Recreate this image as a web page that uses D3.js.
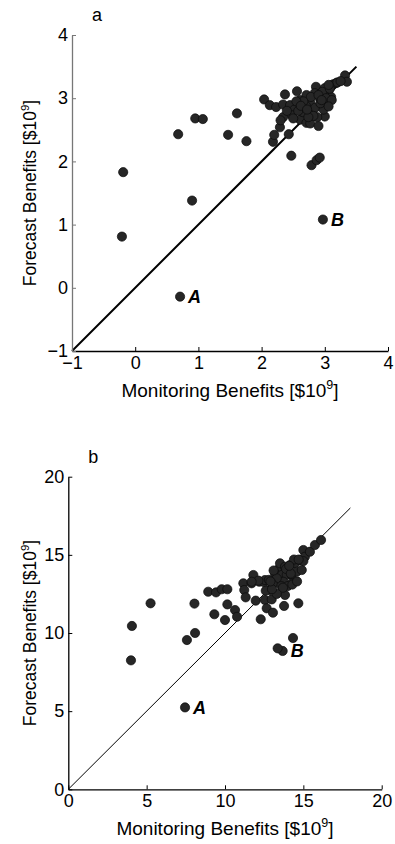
<!DOCTYPE html>
<html>
<head>
<meta charset="utf-8">
<script src="https://cdn.jsdelivr.net/npm/d3@7"></script>
<style>
  body { margin: 0; background: #fff; }
  svg { display: block; }
  text { font-family: "Liberation Sans", Arial, sans-serif; fill: #000; }
</style>
</head>
<body>
<div id="chart"></div>
<script>
var width = 395,
    height = 844;

// panel a: monitoring vs forecast benefits ($10^9)
var aMonitoring = [-0.21, -0.19, 0.90, 0.68, 0.95, 1.07, 1.47, 1.61, 1.76, 0.71, 2.97,
  2.47, 2.79, 2.87, 2.92, 2.18, 2.20, 2.29, 2.43,
  2.04, 2.13, 2.23, 2.37, 2.34, 2.45, 2.56, 2.61, 2.52, 2.71, 2.77, 2.86, 2.84, 2.92,
  3.00, 3.05, 3.13, 3.18, 3.32, 3.35, 3.20, 3.25,
  2.34, 2.48, 2.61, 2.71, 2.77, 2.90, 3.00, 2.65, 2.80, 2.95, 3.05, 2.85, 2.70, 2.58,
  2.88, 2.98, 3.10, 2.93, 2.78, 2.66, 2.55, 2.40, 2.30, 2.82, 2.96, 3.08, 2.74, 2.62,
  2.90, 3.02, 2.72, 2.50, 2.95, 3.06, 3.11, 3.06];
var aForecast = [0.81, 1.83, 1.38, 2.43, 2.68, 2.67, 2.42, 2.76, 2.32, -0.14, 1.08,
  2.09, 1.94, 2.02, 2.06, 2.31, 2.42, 2.54, 2.43,
  2.98, 2.89, 2.86, 3.06, 2.90, 2.89, 3.11, 2.97, 2.82, 3.05, 2.94, 3.18, 3.08, 3.00,
  3.16, 3.08, 3.22, 3.24, 3.36, 3.26, 3.25, 3.27,
  2.70, 2.73, 2.66, 2.61, 2.60, 2.56, 2.71, 2.78, 2.80, 2.88, 2.95, 2.85, 2.88, 2.80,
  2.70, 2.82, 3.02, 2.92, 3.02, 2.95, 2.95, 2.80, 2.65, 2.72, 3.10, 3.15, 2.70, 2.88,
  3.05, 3.00, 2.82, 2.68, 2.97, 3.21, 2.97, 2.87];

// panel b
var bMonitoring = [4.00, 4.06, 5.25, 7.45, 13.68, 13.36, 14.34, 8.05, 7.57, 8.09,
  8.93, 9.43, 9.79, 10.15, 9.32, 10.00, 10.15, 10.64, 10.77, 11.17, 11.23, 11.32,
  11.81, 11.70, 12.19, 12.50, 11.96, 12.28, 12.55, 12.66, 12.98, 13.06, 12.87, 12.60,
  13.40, 13.19, 13.51, 13.83, 14.15, 14.47, 14.79, 15.00, 15.10, 15.42, 15.74, 16.13,
  13.62, 13.94, 14.26, 14.58, 14.90, 13.72, 14.26, 13.08, 12.55, 12.13, 11.70,
  13.77, 13.83, 14.68, 13.30, 13.05, 13.60, 14.00, 14.30, 14.60, 13.70, 13.30, 13.00,
  12.80, 13.90, 14.20, 15.00, 12.90, 14.40, 14.70, 13.10, 14.10];
var bForecast = [8.25, 10.45, 11.90, 5.24, 8.85, 9.02, 9.68, 11.88, 9.55, 10.00,
  12.64, 12.60, 12.80, 12.80, 11.20, 10.83, 11.83, 11.47, 11.04, 13.18, 12.75, 12.28,
  13.71, 13.18, 13.28, 13.25, 12.07, 10.88, 12.11, 11.58, 12.15, 11.30, 12.75, 12.70,
  14.07, 13.82, 14.46, 14.24, 14.35, 14.46, 14.67, 15.31, 14.88, 15.20, 15.63, 15.95,
  13.71, 13.71, 13.71, 13.92, 14.03, 13.28, 13.18, 13.28, 13.39, 13.35, 13.28,
  11.73, 12.43, 11.90, 13.50, 13.10, 13.00, 13.00, 13.10, 13.30, 12.90, 12.50, 12.80,
  13.40, 14.10, 13.80, 14.60, 13.30, 14.70, 14.70, 14.00, 14.30];

var aTicks = [-1, 0, 1, 2, 3, 4],
    bTicks = [0, 5, 10, 15, 20];

// labelled points: index into the arrays
var aMarked = [{i: 9, name: "A"}, {i: 10, name: "B"}],
    bMarked = [{i: 3, name: "A"}, {i: 4, name: "B"}];

var panels = [
  {letter: "a", xs: aMonitoring, ys: aForecast, ticks: aTicks, domain: [-1, 4], diag: [-1, 3.5],
   left: 72, right: 388, top: 35, bottom: 351, lineW: 2, yAxisColor: "#777", marked: aMarked},
  {letter: "b", xs: bMonitoring, ys: bForecast, ticks: bTicks, domain: [0, 20], diag: [0, 18],
   left: 68.3, right: 381.7, top: 476.7, bottom: 789.3, lineW: 1, yAxisColor: "#000", marked: bMarked}
];

var svg = d3.select("#chart")
  .append("svg")
  .attr("width", width)
  .attr("height", height);

function minus(d) { return d < 0 ? "\u2212" + Math.abs(d) : d; }

panels.forEach(function(p) {
  var x = d3.scaleLinear().domain(p.domain).range([p.left, p.right]);
  var y = d3.scaleLinear().domain(p.domain).range([p.bottom, p.top]);
  var g = svg.append("g");

  // diagonal 1:1 line
  g.append("line")
    .attr("x1", x(p.diag[0])).attr("y1", y(p.diag[0]))
    .attr("x2", x(p.diag[1])).attr("y2", y(p.diag[1]))
    .style("stroke", "#000")
    .style("stroke-width", p.lineW);

  // dots
  g.selectAll("circle")
    .data(d3.range(p.xs.length))
    .enter().append("circle")
    .attr("cx", function(i) { return x(p.xs[i]); })
    .attr("cy", function(i) { return y(p.ys[i]); })
    .attr("r", 4.6)
    .style("fill", "#262626")
    .style("stroke", "#0a0a0a")
    .style("stroke-width", 0.7);

  // point labels
  p.marked.forEach(function(m) {
    g.append("text")
      .attr("x", x(p.xs[m.i]) + 8)
      .attr("y", y(p.ys[m.i]) + 6.5)
      .style("font-size", "18px")
      .style("font-weight", "bold")
      .style("font-style", "italic")
      .text(m.name);
  });

  // axes
  var xAxis = d3.axisBottom(x).tickValues(p.ticks).tickSizeInner(-4).tickSizeOuter(0).tickPadding(5).tickFormat(minus);
  var yAxis = d3.axisLeft(y).tickValues(p.ticks).tickSizeInner(-4).tickSizeOuter(0).tickPadding(4).tickFormat(minus);

  var gx = g.append("g")
    .attr("transform", "translate(0," + p.bottom + ")")
    .call(xAxis);
  var gy = g.append("g")
    .attr("transform", "translate(" + p.left + ",0)")
    .call(yAxis);

  gx.select(".domain").style("stroke", "#000").style("stroke-width", 1.3);
  gx.selectAll(".tick line").style("stroke", "#000");
  gy.select(".domain").style("stroke", p.yAxisColor).style("stroke-width", 1.3);
  gy.selectAll(".tick line").style("stroke", p.yAxisColor);
  g.selectAll(".tick text")
    .style("font-family", "'Liberation Sans', Arial, sans-serif")
    .style("font-size", "18px")
    .style("fill", "#000");

  // x label
  var xl = g.append("text")
    .attr("x", (p.left + p.right) / 2)
    .attr("y", p.bottom + 46)
    .attr("text-anchor", "middle")
    .style("font-size", "19px");
  xl.append("tspan").text("Monitoring Benefits [$10");
  xl.append("tspan").attr("dy", -8).style("font-size", "12.5px").text("9");
  xl.append("tspan").attr("dy", 8).text("]");

  // y label
  var yl = g.append("text")
    .attr("transform", "translate(36," + (p.top + p.bottom) / 2 + ") rotate(-90)")
    .attr("text-anchor", "middle")
    .style("font-size", "17.5px");
  yl.append("tspan").text("Forecast Benefits [$10");
  yl.append("tspan").attr("dy", -7).style("font-size", "11.5px").text("9");
  yl.append("tspan").attr("dy", 7).text("]");

  // panel letter
  g.append("text")
    .attr("x", p.left + 20)
    .attr("y", p.top - 14)
    .style("font-size", "18px")
    .text(p.letter);
});
</script>
</body>
</html>
